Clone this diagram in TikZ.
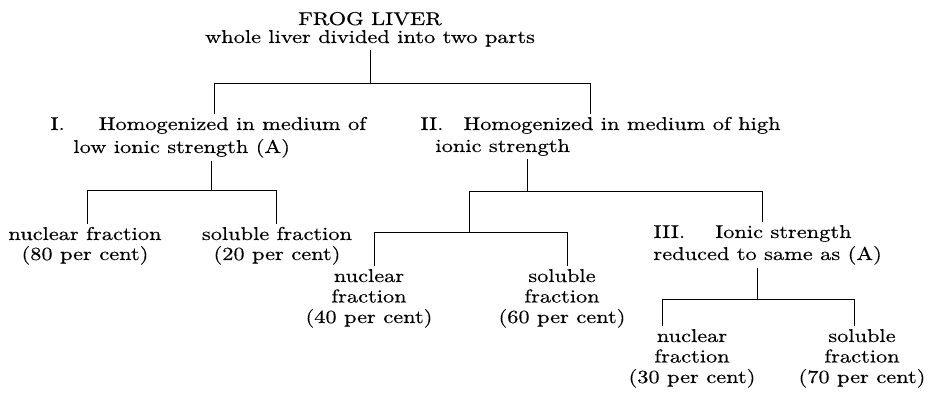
\documentclass[tikz,border=0pt]{standalone}
\usepackage{fontspec}
\setmainfont{lmroman10-regular.otf}[FakeStretch=1.21, FakeBold=0.4]

\begin{document}
\begin{tikzpicture}[x=1pt, y=-1pt, line width=0.9pt,
  every node/.style={font=\fontsize{18.5}{21}\selectfont, inner xsep=0pt, inner ysep=3pt},
  etapa/.style={align=left, anchor=base west},
  fraccion/.style={align=center, anchor=base}]
\useasboundingbox (0,0) rectangle (929,395);

% textos (anclados en la linea base de la ultima linea)
\node[fraccion] (higado) at (370,43) {FROG LIVER\\[-3pt]whole liver divided into two parts};
\node[etapa] (homI) at (50,153) {I.\hspace{34pt}Homogenized in medium of\\[2pt]\hspace*{23pt}low ionic strength (A)};
\node[etapa] (homII) at (420,152) {II.\hspace{20pt}Homogenized in medium of high\\[1pt]\hspace*{15pt}ionic strength};
\node[etapa] (redIII) at (653,260) {III.\hspace{30pt}Ionic strength\\[1pt]reduced to same as (A)};
\node[fraccion] (nucI) at (85,260) {nuclear fraction\\[-1pt](80 per cent)};
\node[fraccion] (solI) at (277,260) {soluble fraction\\[-1pt](20 per cent)};
\node[fraccion] (nucII) at (369,323) {nuclear\\[-0.5pt]fraction\\[-0.5pt](40 per cent)};
\node[fraccion] (solII) at (562,323) {soluble\\[-0.5pt]fraction\\[-0.5pt](60 per cent)};
\node[fraccion] (nucIII) at (692,383) {nuclear\\[-0.5pt]fraction\\[-0.5pt](30 per cent)};
\node[fraccion] (solIII) at (862,383) {soluble\\[-0.5pt]fraction\\[-0.5pt](70 per cent)};

% barras
\coordinate (b0j) at (370,83);  \coordinate (b0l) at (214,83);  \coordinate (b0r) at (590,83);
\coordinate (b1j) at (211,190); \coordinate (b1l) at (87,190);  \coordinate (b1r) at (276,190);
\coordinate (b2j) at (527,191); \coordinate (b2l) at (469,191); \coordinate (b2r) at (762,191);
\coordinate (b3j) at (469,232); \coordinate (b3l) at (374,232); \coordinate (b3r) at (567,232);
\coordinate (b4j) at (757,299); \coordinate (b4l) at (662,299); \coordinate (b4r) at (854,299);

\draw (higado.south -| b0j) -- (b0j);
\draw (homI.north -| b0l) -- (b0l) -- (b0r) -- (homII.north -| b0r);
\draw (homI.south -| b1j) -- (b1j);
\draw (nucI.north -| b1l) -- (b1l) -- (b1r) -- (solI.north -| b1r);
\draw (homII.south -| b2j) -- (b2j);
\draw (b3j) -- (b2l) -- (b2r) -- (redIII.north -| b2r);
\draw (nucII.north -| b3l) -- (b3l) -- (b3r) -- (solII.north -| b3r);
\draw (redIII.south -| b4j) -- (b4j);
\draw (nucIII.north -| b4l) -- (b4l) -- (b4r) -- (solIII.north -| b4r);
\end{tikzpicture}
\end{document}
